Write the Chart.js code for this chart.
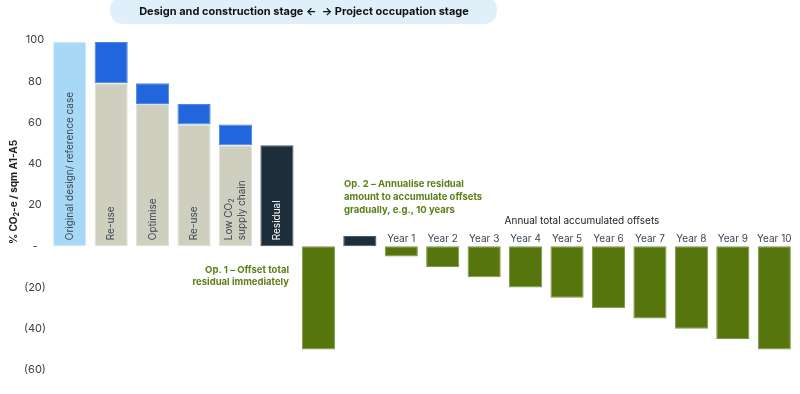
<!DOCTYPE html>
<html>
<head>
<meta charset="utf-8">
<script src="https://cdn.jsdelivr.net/npm/chart.js@4.4.1/dist/chart.umd.min.js"></script>
<style>
  html, body { margin: 0; padding: 0; background: #fff; }
</style>
</head>
<body>
<canvas id="chart" width="800" height="394"></canvas>
<script>
'use strict';

// categories along the x axis (one per bar)
var categories = ['Original design/ reference case', 'Re-use', 'Optimise', 'Re-use',
                  'Low CO2 supply chain', 'Residual', 'Op. 1', 'Op. 2',
                  'Year 1', 'Year 2', 'Year 3', 'Year 4', 'Year 5',
                  'Year 6', 'Year 7', 'Year 8', 'Year 9', 'Year 10'];
// remaining footprint / offsets (% CO2-e per sqm)
var baseValues = [99, 79, 69, 59, 49, 49, -50, 5,
                  -5, -10, -15, -20, -25, -30, -35, -40, -45, -50];
// reduction achieved by each step (stacked above the remaining part)
var savingValues = [0, 20, 10, 10, 10, 0, 0, 0,
                    0, 0, 0, 0, 0, 0, 0, 0, 0, 0];
var yTicks = [100, 80, 60, 40, 20, 0, -20, -40, -60];

// labels written inside the bars (rotated)
var insideLabels = [['Original design/ reference case'], ['Re-use'], ['Optimise'], ['Re-use'],
                    ['Low CO2', 'supply chain'], ['Residual']];

var LBLUE = '#a7d8f5', BLUE = '#2266dd', GREY = '#cfcfc0',
    DARK = '#1e2d3a', GREEN = '#56750c', GREENTXT = '#5b7f16', TXT = '#3b4654';
var FONT = 'Inter, "Liberation Sans", sans-serif';

var baseColors = [LBLUE, GREY, GREY, GREY, GREY, DARK, GREEN, DARK];
while (baseColors.length < categories.length) baseColors.push(GREEN);
var baseBorders = baseColors.map(function (c) {
   return c === DARK ? '#4a5966' : c === GREEN ? '#7c9848' : c === GREY ? '#e2e2d8' : '#c8e8fa';
});

// draws a string, putting the 2 of "CO2" as a subscript
function drawRich(ctx, text, x, y, align, size, weight) {
   var parts = text.split('CO2');
   var big = weight + ' ' + size + 'px ' + FONT;
   var small = weight + ' ' + Math.round(size * 0.65) + 'px ' + FONT;
   var segs = [];
   parts.forEach(function (p, i) {
      segs.push({ t: p + (i < parts.length - 1 ? 'CO' : ''), sub: false });
      if (i < parts.length - 1) segs.push({ t: '2', sub: true });
   });
   var w = 0;
   segs.forEach(function (s) { ctx.font = s.sub ? small : big; s.w = ctx.measureText(s.t).width; w += s.w; });
   var cx = align === 'center' ? x - w / 2 : align === 'right' ? x - w : x;
   ctx.textAlign = 'left';
   segs.forEach(function (s) {
      ctx.font = s.sub ? small : big;
      ctx.fillText(s.t, cx, s.sub ? y + size * 0.3 : y);
      cx += s.w;
   });
}

var notes = {
   id: 'notes',
   afterDraw: function (chart) {
      var ctx = chart.ctx;
      var xs = chart.scales.x, ys = chart.scales.y;
      var zero = ys.getPixelForValue(0);
      ctx.save();
      ctx.textBaseline = 'middle';

      // header pill
      ctx.fillStyle = '#dff0fa';
      ctx.beginPath();
      ctx.roundRect(110, -4, 387, 28, 13);
      ctx.fill();
      ctx.fillStyle = '#111';
      ctx.font = 'bold 11px ' + FONT;
      ctx.textAlign = 'center';
      ctx.fillText('Design and construction stage \u2190  \u2192 Project occupation stage', 304, 12);

      // y axis title
      ctx.save();
      ctx.translate(14, 192);
      ctx.rotate(-Math.PI / 2);
      ctx.fillStyle = '#222';
      drawRich(ctx, '% CO2-e / sqm A1-A5', 0, 0, 'center', 10, 'bold');
      ctx.restore();

      // labels inside the first bars
      insideLabels.forEach(function (lines, i) {
         var x = xs.getPixelForValue(i);
         ctx.save();
         ctx.translate(x, zero - 6);
         ctx.rotate(-Math.PI / 2);
         ctx.fillStyle = i === 5 ? '#ffffff' : TXT;
         lines.forEach(function (l, k) {
            drawRich(ctx, l, 0, (k - (lines.length - 1) / 2) * 13.5, 'left', 10, 'normal');
         });
         ctx.restore();
      });

      // year labels above the offset bars
      ctx.fillStyle = TXT;
      ctx.font = '10px ' + FONT;
      ctx.textAlign = 'center';
      categories.forEach(function (c, i) {
         if (c.indexOf('Year') === 0) ctx.fillText(c, xs.getPixelForValue(i), zero - 7);
      });

      ctx.fillStyle = '#222';
      ctx.fillText('Annual total accumulated offsets', 582, 221);

      // option notes
      ctx.fillStyle = GREENTXT;
      ctx.font = 'bold 9.5px ' + FONT;
      ctx.textAlign = 'right';
      ctx.fillText('Op. 1 \u2013 Offset total', 289, 270);
      ctx.fillText('residual immediately', 289, 282.5);
      ctx.textAlign = 'left';
      ctx.fillText('Op. 2 \u2013 Annualise residual', 344, 184.5);
      ctx.fillText('amount to accumulate offsets', 344, 197);
      ctx.fillText('gradually, e.g., 10 years', 344, 210);
      ctx.restore();
   }
};

new Chart(document.getElementById('chart'), {
   type: 'bar',
   data: {
      labels: categories,
      datasets: [{
         data: baseValues,
         backgroundColor: baseColors,
         borderColor: baseBorders,
         borderWidth: 1,
         borderSkipped: false
      }, {
         data: savingValues,
         backgroundColor: BLUE,
         borderColor: '#4d86e4',
         borderWidth: 1,
         borderSkipped: false
      }]
   },
   options: {
      responsive: false,
      devicePixelRatio: 1,
      animation: false,
      barPercentage: 0.8,
      categoryPercentage: 1.0,
      layout: { padding: { top: 40, bottom: 24, left: 0, right: 5 } },
      plugins: { legend: { display: false }, tooltip: { enabled: false } },
      scales: {
         x: { display: false, stacked: true },
         y: {
            stacked: true,
            min: -60,
            max: 100,
            afterFit: function (axis) { axis.width = 49; },
            afterBuildTicks: function (axis) {
               axis.ticks = yTicks.map(function (v) { return { value: v }; });
            },
            grid: { display: false, drawTicks: false },
            border: { display: false },
            ticks: {
               padding: 3,
               crossAlign: 'center',
               color: '#404040',
               font: { family: FONT, size: 11 },
               callback: function (v) {
                  if (v === 0) return '-';
                  return v < 0 ? '(' + (-v) + ')' : String(v);
               }
            }
         }
      }
   },
   plugins: [notes]
});
</script>
</body>
</html>
